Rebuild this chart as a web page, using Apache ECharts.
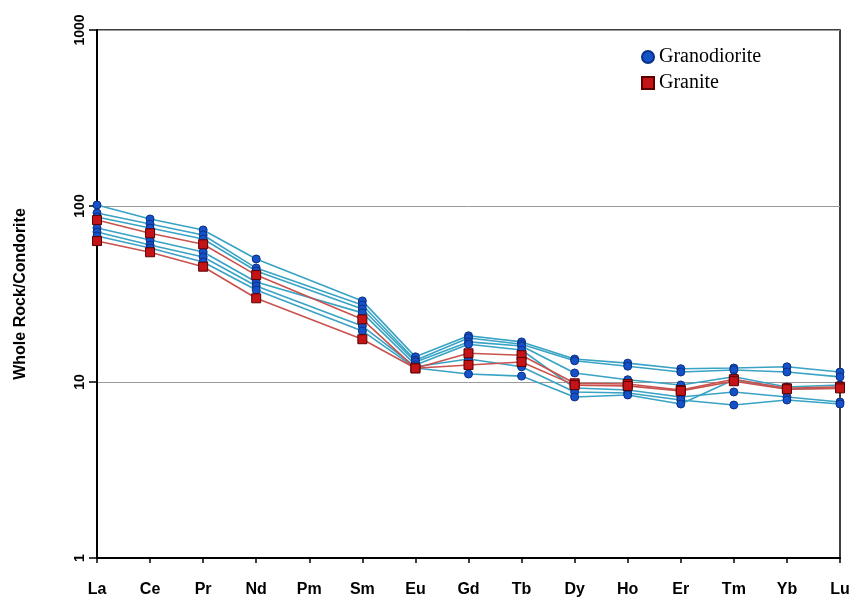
<!DOCTYPE html>
<html>
<head>
<meta charset="utf-8">
<script src="https://cdn.jsdelivr.net/npm/echarts@6/dist/echarts.min.js"></script>
<style>
html,body{margin:0;padding:0;background:#fff;}
#chart{width:860px;height:601px;}
</style>
</head>
<body>
<div id="chart"></div>
<script>
var categories = ['La','Ce','Pr','Nd','Pm','Sm','Eu','Gd','Tb','Dy','Ho','Er','Tm','Yb','Lu'];
var yTicks = [1, 10, 100, 1000];

// Granodiorite samples (chondrite-normalised)
var granodiorite1 = [101.3, 84.4, 73.1, 50.0, null, 28.9, 13.9, 18.3, 16.9, 13.5, 12.8, 11.9, 12.0, 12.2, 11.4];
var granodiorite2 = [91.2, 79.0, 68.4, 44.4, null, 27.4, 13.3, 17.8, 16.4, 13.2, 12.3, 11.4, 11.7, 11.4, 10.7];
var granodiorite3 = [86.6, 75.0, 64.9, 42.7, null, 26.0, 13.0, 16.9, 16.0, 11.25, 10.3, 9.62, 10.7, 9.37, 9.62];
var granodiorite4 = [75.0, 64.1, 54.8, 37.0, null, 24.7, 12.5, 16.4, 15.2, 9.25, 9.0, 8.22, 8.78, 8.22, 7.70];
var granodiorite5 = [71.2, 60.0, 51.3, 35.1, null, 20.8, 12.2, 13.5, 12.2, 8.78, 8.66, 7.90, 7.40, 7.90, 7.50];
var granodiorite6 = [67.5, 57.7, 48.1, 33.3, null, 19.5, 12.0, 11.1, 10.8, 8.22, 8.44, 7.50, 10.3, 9.12, 9.25];

// Granite samples
var granite1 = [83.2, 70.0, 60.6, 40.5, null, 22.7, 11.96, 14.56, 14.2, 9.83, 9.74, 9.0, 10.36, 9.21, 9.4];
var granite2 = [63.2, 54.6, 45.2, 29.9, null, 17.5, 11.96, 12.5, 13.0, 9.6, 9.5, 8.9, 10.1, 9.1, 9.2];

var granodioriteSets = [granodiorite1, granodiorite2, granodiorite3, granodiorite4, granodiorite5, granodiorite6];
var graniteSets = [granite1, granite2];

var series = [];
granodioriteSets.forEach(function (d) {
  series.push({
    name: 'Granodiorite', type: 'line', data: d, connectNulls: true,
    symbol: 'circle', symbolSize: 8, z: 2,
    lineStyle: { color: '#38a3c4', width: 1.6 },
    itemStyle: { color: '#1552c8', borderColor: '#0b2f85', borderWidth: 1 }
  });
});
graniteSets.forEach(function (d) {
  series.push({
    name: 'Granite', type: 'line', data: d, connectNulls: true,
    symbol: 'rect', symbolSize: 9, z: 3,
    lineStyle: { color: '#c9524e', width: 1.6 },
    itemStyle: { color: '#c41418', borderColor: '#5a0000', borderWidth: 1 }
  });
});

var chart = echarts.init(document.getElementById('chart'), null, { renderer: 'canvas' });
chart.setOption({
  animation: false,
  backgroundColor: '#fff',
  grid: { left: 97, right: 20, top: 30, bottom: 43, show: true, borderColor: '#000', borderWidth: 1.5, backgroundColor: 'transparent' },
  legend: {
    orient: 'vertical', left: 636, top: 42, itemGap: 6, itemWidth: 12, itemHeight: 12,
    data: [
      { name: 'Granodiorite', icon: 'circle' },
      { name: 'Granite', icon: 'rect' }
    ],
    textStyle: { fontFamily: 'Liberation Serif', fontSize: 20, color: '#000' }
  },
  xAxis: {
    type: 'category', data: categories, boundaryGap: false,
    axisLine: { lineStyle: { color: '#000', width: 2 } },
    axisTick: { show: true, length: 5, lineStyle: { color: '#000', width: 1.5 } },
    axisLabel: { color: '#000', fontFamily: 'Liberation Sans', fontWeight: 'bold', fontSize: 16, margin: 24 },
    splitLine: { show: false }
  },
  yAxis: {
    type: 'log', logBase: 10, min: 1, max: 1000,
    name: 'Whole Rock/Condorite', nameLocation: 'middle', nameGap: 68, nameRotate: 90,
    nameTextStyle: { color: '#000', fontFamily: 'Liberation Sans', fontWeight: 'bold', fontSize: 16 },
    axisLine: { show: true, lineStyle: { color: '#000', width: 2 } },
    axisTick: { show: true, length: 8, lineStyle: { color: '#000', width: 1.5 } },
    axisLabel: {
      color: '#000', fontFamily: 'Liberation Sans', fontWeight: 'bold', fontSize: 14, rotate: 90, margin: 10,
      formatter: function (v) { return yTicks.indexOf(Math.round(v)) >= 0 ? String(Math.round(v)) : ''; }
    },
    splitLine: { show: true, lineStyle: { color: '#9a9a9a', width: 1 } },
    minorTick: { show: false }
  },
  series: series
});
</script>
</body>
</html>
